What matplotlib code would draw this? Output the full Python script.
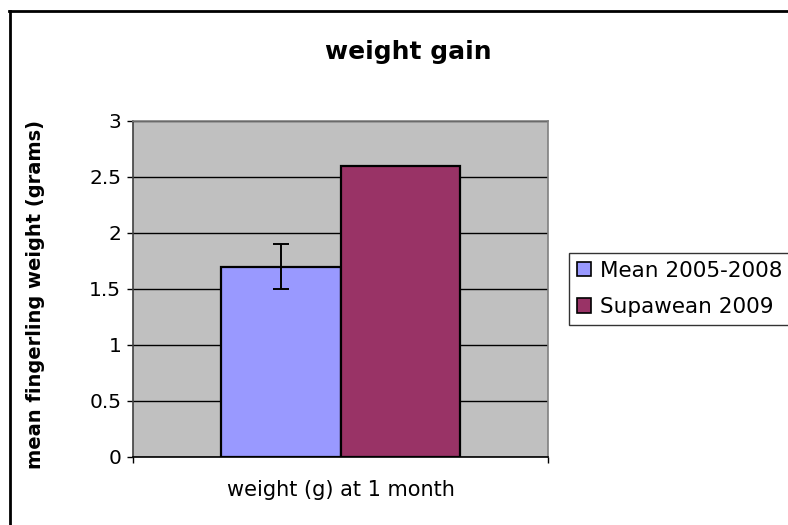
import matplotlib
matplotlib.use('Agg')
import matplotlib.pyplot as plt
from matplotlib.lines import Line2D
import numpy as np

# ---------------------------------------------------------------------------
# Data
# ---------------------------------------------------------------------------
category = "weight (g) at 1 month"
series_names = ["Mean 2005-2008", "Supawean 2009"]
series_values = [1.7, 2.6]
series_err_low = [0.2, None]    # error bar only on the mean series
series_err_high = [0.2, None]
series_colors = ["#9999FF", "#993366"]
y_ticks = [0, 0.5, 1, 1.5, 2, 2.5, 3]

W, H = 788, 525
fig = plt.figure(figsize=(W / 100, H / 100), dpi=100)
fig.patch.set_facecolor("white")

# plot area placement in pixels (left, top, right, bottom)
px_l, px_t, px_r, px_b = 133, 121, 548, 457
ax = fig.add_axes([px_l / W, 1 - px_b / H, (px_r - px_l) / W, (px_b - px_t) / H])
ax.set_facecolor("#C0C0C0")

# two bars side by side, centred in the single category slot
bar_w = 0.287
n = len(series_values)
centers = 0.5 + (np.arange(n) - (n - 1) / 2) * bar_w
for i in range(n):
    ax.bar(centers[i], series_values[i], width=bar_w, color=series_colors[i],
           edgecolor="black", linewidth=1.6, label=series_names[i], zorder=3)
    if series_err_low[i] is not None:
        ax.errorbar(centers[i], series_values[i],
                    yerr=[[series_err_low[i]], [series_err_high[i]]],
                    fmt="none", ecolor="black", elinewidth=1.4, capsize=5.5,
                    capthick=1.4, zorder=4)

ax.set_xlim(0, 1)
ax.set_ylim(0, 3)
ax.set_yticks(y_ticks)
ax.set_yticklabels([f"{t:g}" for t in y_ticks])
ax.yaxis.grid(True, color="black", linewidth=1.0, zorder=1)
ax.set_axisbelow(True)

# category axis: ticks only at the slot boundaries
ax.set_xticks([0, 1])
ax.set_xticklabels(["", ""])
ax.tick_params(axis="x", direction="out", length=4.5, width=1, color="black")
ax.tick_params(axis="y", direction="out", length=4.5, width=1, color="black",
               labelsize=14.5, pad=4)

for side in ["top", "right"]:
    ax.spines[side].set_color("#808080")
    ax.spines[side].set_linewidth(1.2)
ax.spines["left"].set_color("#404040")
ax.spines["left"].set_linewidth(1.2)
ax.spines["bottom"].set_color("black")
ax.spines["bottom"].set_linewidth(1.2)
ax.spines["bottom"].set_zorder(5)

ax.set_ylabel("mean fingerling weight (grams)", fontsize=14, fontweight="bold")
ax.yaxis.set_label_coords(-0.236, 0.485)
ax.yaxis.label.set_va("center")
ax.set_xlabel(category, fontsize=15)
ax.xaxis.set_label_coords(0.5, -0.098)
ax.xaxis.label.set_va("center")

fig.text(408 / W, 1 - 52 / H, "weight gain", ha="center", va="center",
         fontsize=18, fontweight="bold")

leg = fig.legend(loc="upper left", bbox_to_anchor=(569 / W, 1 - 253 / H),
                 fontsize=15.5, frameon=True, fancybox=False, shadow=False,
                 handlelength=0.65, handleheight=0.65, handletextpad=0.45,
                 labelspacing=0.77, borderpad=0.35, borderaxespad=0)
leg.get_frame().set_edgecolor("black")
leg.get_frame().set_linewidth(1.0)
for h in leg.legend_handles:
    h.set_edgecolor("black")
    h.set_linewidth(1.2)

# outer chart border (only top and left edges fall inside the picture)
fig.add_artist(Line2D([9.5 / W, 9.5 / W], [0, 1 - 10.5 / H],
                      transform=fig.transFigure, color="black", linewidth=2))
fig.add_artist(Line2D([8.5 / W, 1], [1 - 10.5 / H, 1 - 10.5 / H],
                      transform=fig.transFigure, color="black", linewidth=2))

fig.savefig("out.png", dpi=100)
